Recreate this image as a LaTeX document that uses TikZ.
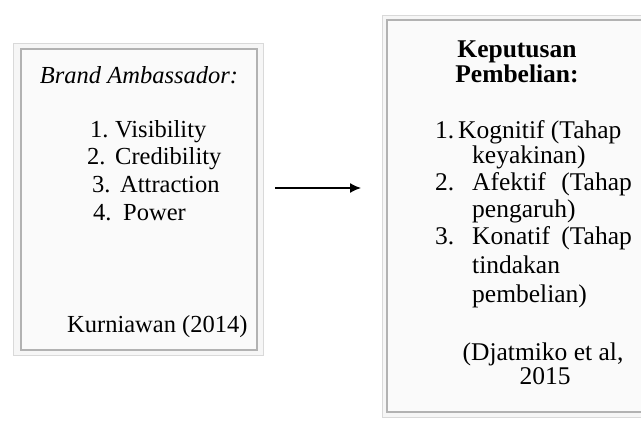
\documentclass[tikz,border=0pt]{standalone}
\usepackage{fontspec}
\setmainfont{Liberation Serif}
\usetikzlibrary{arrows.meta}
\begin{document}
\begin{tikzpicture}[x=1pt,y=-1pt,
  txt/.style={font=\fontsize{24.5}{27}\selectfont, inner sep=0pt},
  rtxt/.style={font=\fontsize{25.5}{27}\selectfont, inner sep=0pt},
  outerbox/.style={draw=gray!30, fill=gray!7, line width=1pt, inner sep=0pt},
  innerbox/.style={draw=gray!60, fill=gray!4, line width=1.4pt, inner sep=0pt},
  conn/.style={line width=1.3pt, -{Latex[length=11pt,width=10pt]}}]
\useasboundingbox (0,0) rectangle (641,423);
\fill[white] (0,0) rectangle (641,423);
% left box
\node[outerbox, minimum width=250pt, minimum height=312pt] (Lo) at (138,199) {};
\node[innerbox, minimum width=236pt, minimum height=301pt] (L) at (139,199.5) {};
% right box
\node[outerbox, minimum width=278pt, minimum height=402pt] (Ro) at (521,216) {};
\node[innerbox, minimum width=268pt, minimum height=392pt] (R) at (521,216) {};
% arrow
\coordinate (a1) at (275,188);
\coordinate (a2) at (361,188);
\draw[conn] (a1) -- (a2);
% left texts
\node[txt, anchor=mid] (lt) at (139,81) {\itshape Brand Ambassador:};
\node[txt, anchor=mid west] (n1) at (90,135) {1.};
\node[txt, anchor=mid west] (v1) at (115,135) {Visibility};
\node[txt, anchor=mid west] (n2) at (87,162) {2.};
\node[txt, anchor=mid west] (v2) at (115,162) {Credibility};
\node[txt, anchor=mid west] (n3) at (92,190) {3.};
\node[txt, anchor=mid west] (v3) at (120,190) {Attraction};
\node[txt, anchor=mid west] (n4) at (93,218) {4.};
\node[txt, anchor=mid west] (v4) at (123,218) {Power};
\node[txt, anchor=mid west] (lk) at (67,330) {Kurniawan (2014)};
% right texts
\node[rtxt, anchor=mid] (rt1) at (517,55) {\bfseries Keputusan};
\node[rtxt, anchor=mid] (rt2) at (517,80) {\bfseries Pembelian:};
\node[rtxt, anchor=mid west] (m1) at (435,136) {1.};
\node[rtxt, anchor=mid west] (k1) at (458,136) {Kognitif (Tahap};
\node[rtxt, anchor=mid west] (k1b) at (472,161) {keyakinan)};
\node[rtxt, anchor=mid west] (m2) at (435,188) {2.};
\node[rtxt, anchor=mid west] (k2) at (472,188) {Afektif};
\node[rtxt, anchor=mid east] (t2) at (632,188) {(Tahap};
\node[rtxt, anchor=mid west] (k2b) at (472,215) {pengaruh)};
\node[rtxt, anchor=mid west] (m3) at (435,242) {3.};
\node[rtxt, anchor=mid west] (k3) at (472,242) {Konatif};
\node[rtxt, anchor=mid east] (t3) at (632,242) {(Tahap};
\node[rtxt, anchor=mid west] (k3b) at (472,271) {tindakan};
\node[rtxt, anchor=mid west] (k3c) at (472,300) {pembelian)};
\node[rtxt, anchor=mid] (d1) at (543,358) {(Djatmiko et al,};
\node[rtxt, anchor=mid] (d2) at (545,382) {2015};
\end{tikzpicture}
\end{document}
